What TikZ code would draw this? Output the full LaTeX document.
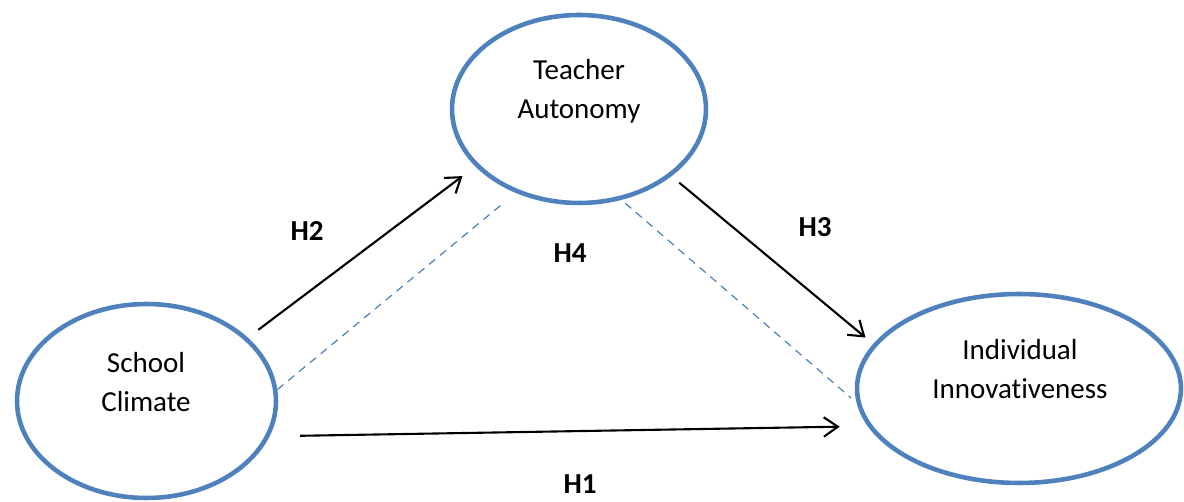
\documentclass[tikz,border=0pt]{standalone}
\usepackage{fontspec}
\setmainfont{Carlito}[Ligatures=NoCommon]
\usetikzlibrary{arrows.meta}
\usetikzlibrary{shapes.geometric}

\definecolor{AccentBlue}{RGB}{79,129,189}

\begin{document}
\begin{tikzpicture}[x=0.02cm,y=-0.02cm,
 construct/.style={ellipse,draw=AccentBlue,line width=2.6pt,inner sep=0pt},
 ctext/.style={align=center,inner sep=0pt,font=\fontsize{16.5}{22}\selectfont},
 hlabel/.style={inner sep=0pt,font=\fontsize{16.5}{20}\selectfont\bfseries},
 path/.style={line width=1.2pt,-{Straight Barb[length=8pt,width=11pt]}},
 mediate/.style={draw=AccentBlue,line width=0.7pt,dash pattern=on 4.5pt off 3.5pt}]
\useasboundingbox (0,0) rectangle (1184,502);

% constructs
\node[construct,minimum width=5.18cm,minimum height=3.88cm] (sc) at (146.5,401) {};
\node[construct,minimum width=5.08cm,minimum height=3.76cm] (ta) at (579,109) {};
\node[construct,minimum width=6.48cm,minimum height=3.78cm] (ii) at (1019,388.5) {};

\node[ctext] (sct) at (146,382) {School\\Climate};
\node[ctext] (tat) at (579,91) {Teacher\\Autonomy};
\node[ctext] (iit) at (1020,369) {Individual\\Innovativeness};

% hypotheses
\draw[path,shorten <=0.26cm,shorten >=0.32cm] (sc.32) -- (ta.209);
\draw[path,shorten <=0.2cm,shorten >=0.2cm] (ta.324.5) -- (ii.163.7);
\draw[path,shorten <=0.61cm,shorten >=0.56cm] (sc.344) -- (ii.194);
\draw[mediate,shorten >=0.28cm] (sc.5) -- (ta.233);
\draw[mediate,shorten <=0.1cm,shorten >=0.14cm] (ta.295) -- (ii.185);

\node[hlabel] (h2) at (307,231) {H2};
\node[hlabel] (h4) at (570,253) {H4};
\node[hlabel] (h3) at (815,227) {H3};
\node[hlabel] (h1) at (580,484) {H1};
\end{tikzpicture}
\end{document}
